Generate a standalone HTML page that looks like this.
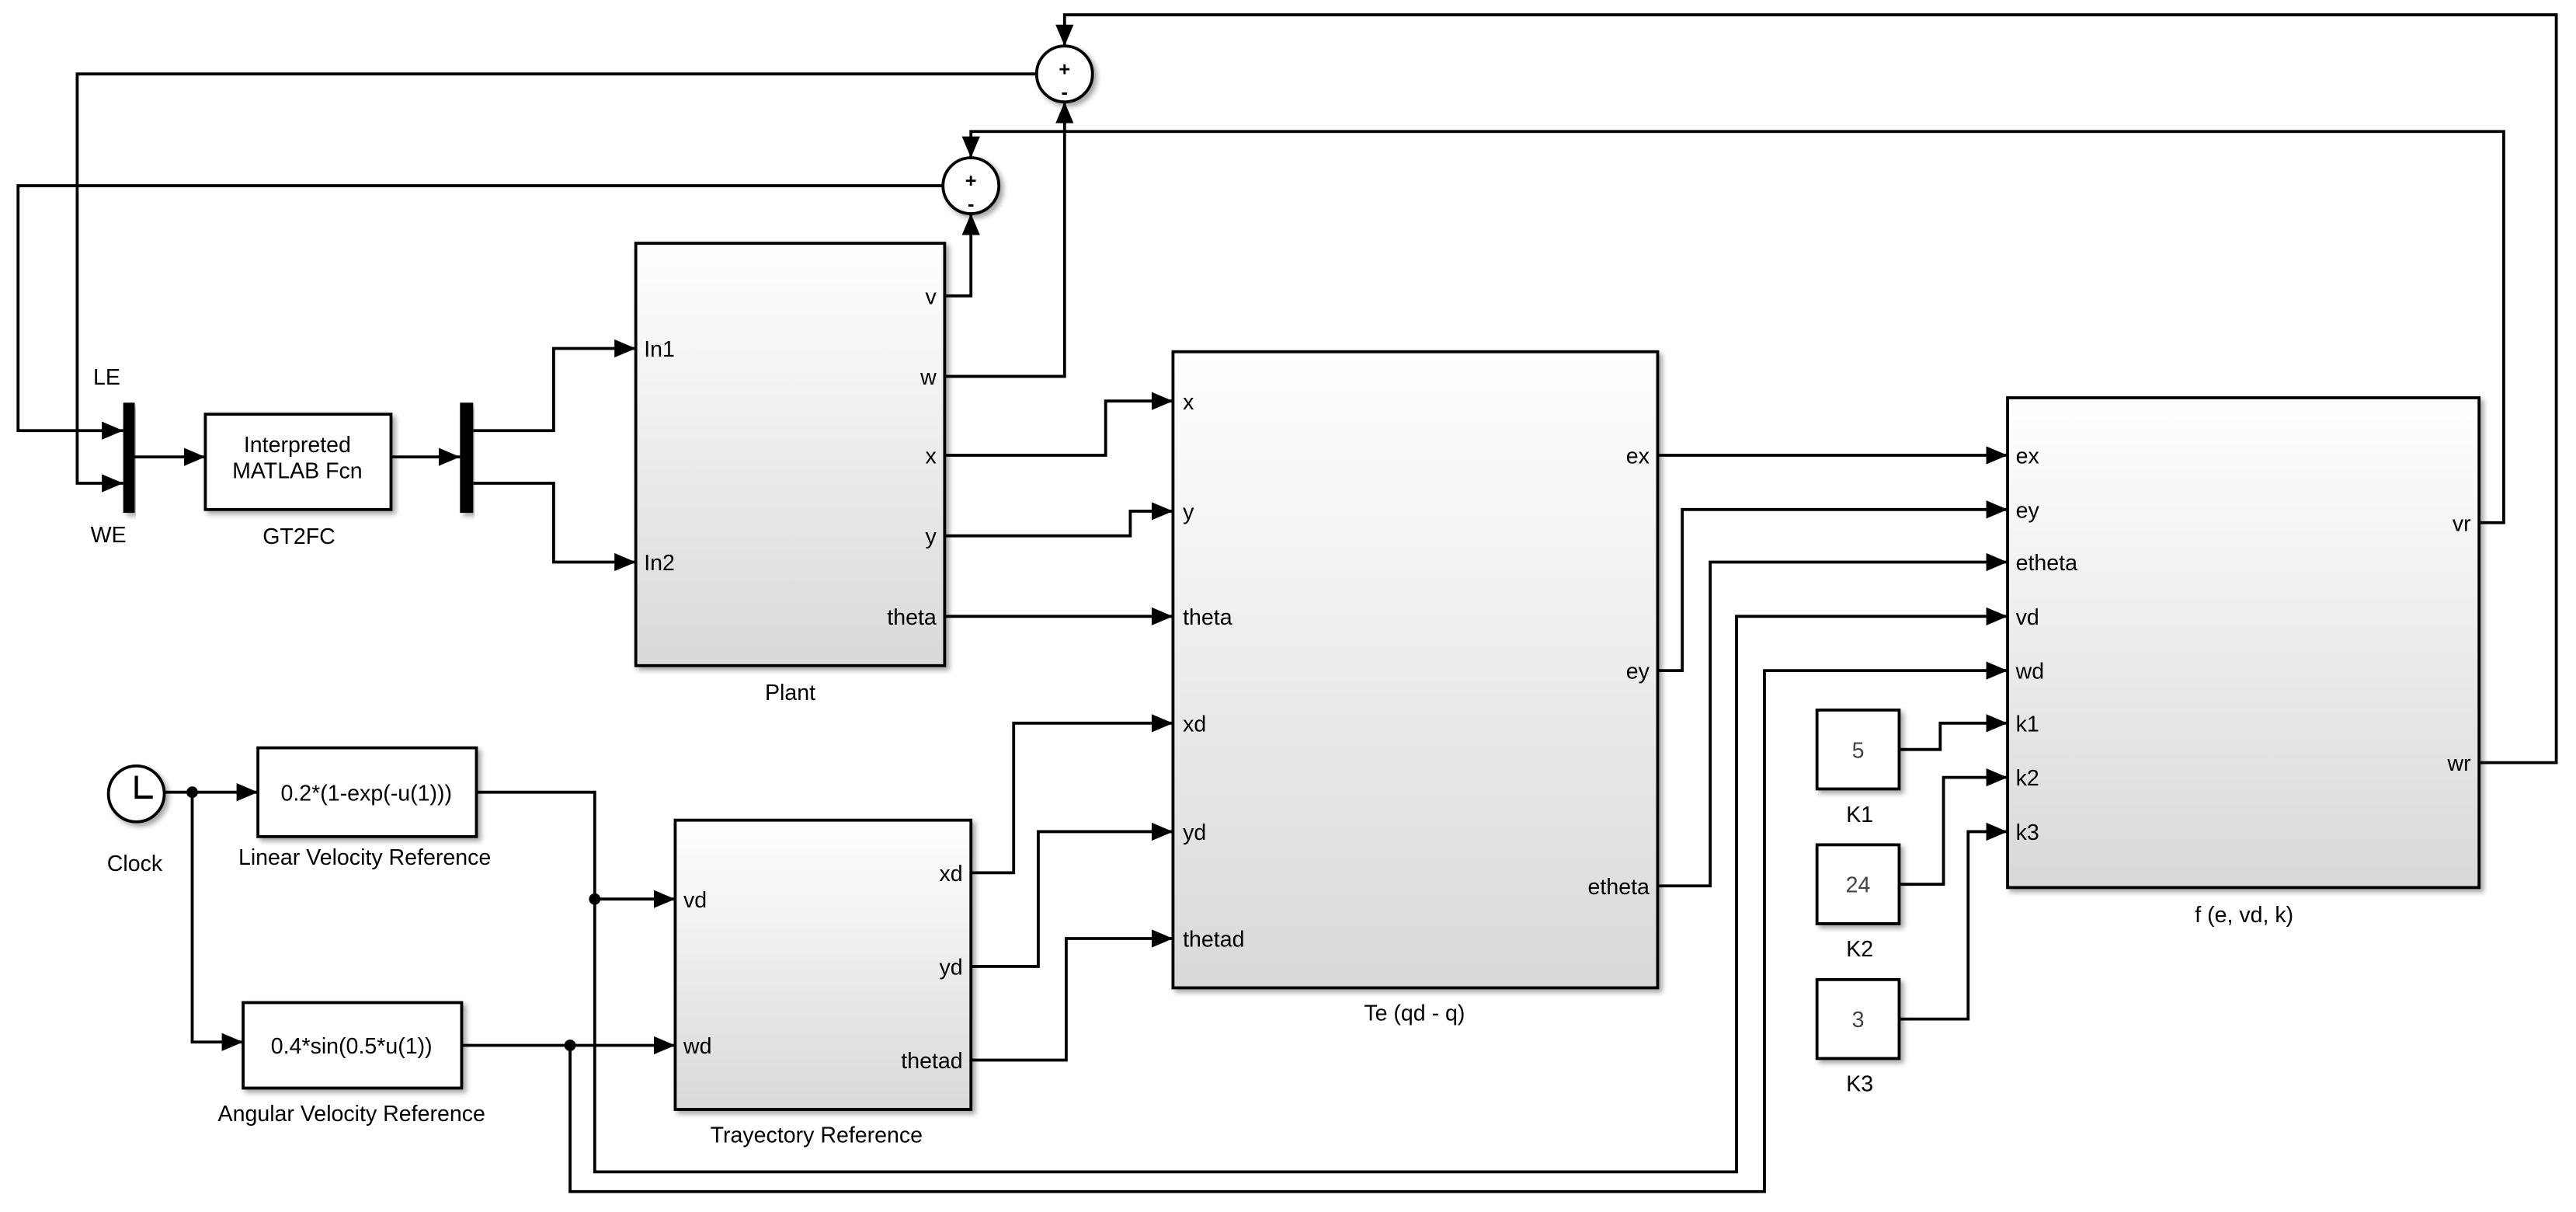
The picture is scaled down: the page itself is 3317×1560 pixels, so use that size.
<!DOCTYPE html>
<html><head><meta charset="utf-8"><style>
html,body{margin:0;padding:0;background:#fff;}
svg{display:block;}
text{font-family:"Liberation Sans",Arial,sans-serif;fill:#000;}
</style></head><body>
<svg width="3317" height="1560" viewBox="0 0 1568 737.4" preserveAspectRatio="none" xmlns="http://www.w3.org/2000/svg">
<defs>
<marker id="a" markerUnits="userSpaceOnUse" markerWidth="13" markerHeight="13" viewBox="0 0 13 13" refX="13" refY="6.5" orient="auto"><path d="M0,1 L13,6.5 L0,12 Z" fill="#000"/></marker>
<linearGradient id="g" x1="0" y1="0" x2="0" y2="1"><stop offset="0" stop-color="#ffffff"/><stop offset="1" stop-color="#d9d9d9"/></linearGradient>
<filter id="s" x="-5%" y="-5%" width="115%" height="115%"><feDropShadow dx="2" dy="2" stdDeviation="1.5" flood-color="#000" flood-opacity="0.35"/></filter>
</defs>
<g fill="none" stroke="#000" stroke-width="1.8">
<polyline points="1509,464 1556,464 1556,9 648,9 648,28" marker-end="url(#a)"/>
<polyline points="1509,318 1524,318 1524,80 591,80 591,96" marker-end="url(#a)"/>
<polyline points="631,45 47,45 47,294 75,294" marker-end="url(#a)"/>
<polyline points="574,113 11,113 11,262 75,262" marker-end="url(#a)"/>
<polyline points="82,278 125,278" marker-end="url(#a)"/>
<polyline points="238,278 280,278" marker-end="url(#a)"/>
<polyline points="288,262 337,262 337,212 387,212" marker-end="url(#a)"/>
<polyline points="288,294 337,294 337,342 387,342" marker-end="url(#a)"/>
<polyline points="575,180 591,180 591,130" marker-end="url(#a)"/>
<polyline points="575,229 648,229 648,62" marker-end="url(#a)"/>
<polyline points="575,277 673,277 673,244 714,244" marker-end="url(#a)"/>
<polyline points="575,326 688,326 688,311 714,311" marker-end="url(#a)"/>
<polyline points="575,375 714,375" marker-end="url(#a)"/>
<polyline points="1009,277 1222,277" marker-end="url(#a)"/>
<polyline points="1009,408 1024,408 1024,310 1222,310" marker-end="url(#a)"/>
<polyline points="1009,539 1041,539 1041,342 1222,342" marker-end="url(#a)"/>
<polyline points="362,547 362,713 1057,713 1057,375 1222,375" marker-end="url(#a)"/>
<polyline points="347,636 347,725 1074,725 1074,408 1222,408" marker-end="url(#a)"/>
<polyline points="1156,456 1181,456 1181,440 1222,440" marker-end="url(#a)"/>
<polyline points="1156,538 1183,538 1183,473 1222,473" marker-end="url(#a)"/>
<polyline points="1156,620 1198,620 1198,506 1222,506" marker-end="url(#a)"/>
<polyline points="100,482 157,482" marker-end="url(#a)"/>
<polyline points="117,482 117,634 148,634" marker-end="url(#a)"/>
<polyline points="290,482 362,482 362,547 411,547" marker-end="url(#a)"/>
<polyline points="281,636 411,636" marker-end="url(#a)"/>
<polyline points="591,531 617,531 617,440 714,440" marker-end="url(#a)"/>
<polyline points="591,588 632,588 632,506 714,506" marker-end="url(#a)"/>
<polyline points="591,645 649,645 649,571 714,571" marker-end="url(#a)"/>
</g>
<circle cx="117" cy="482" r="3.5"/><circle cx="362" cy="547" r="3.5"/><circle cx="347" cy="636" r="3.5"/>
<g filter="url(#s)" stroke="#000" stroke-width="1.8" fill="#fff">
<circle cx="648" cy="45" r="17"/><circle cx="591" cy="113" r="17"/>
<circle cx="83" cy="483" r="17"/>
</g>
<text x="648" y="46" font-size="12" font-weight="bold" text-anchor="middle">+</text>
<text x="648" y="60" font-size="12" font-weight="bold" text-anchor="middle">-</text>
<text x="591" y="114" font-size="12" font-weight="bold" text-anchor="middle">+</text>
<text x="591" y="128" font-size="12" font-weight="bold" text-anchor="middle">-</text>
<polyline points="83,472 83,485 93,485" fill="none" stroke="#000" stroke-width="2"/>
<rect x="75" y="245" width="7" height="67" fill="#000" filter="url(#s)"/>
<rect x="280" y="245" width="8" height="67" fill="#000" filter="url(#s)"/>
<g filter="url(#s)" stroke="#000" stroke-width="1.8">
<rect x="125" y="252" width="113" height="58" fill="#fff"/>
<rect x="387" y="148" width="188" height="257" fill="url(#g)"/>
<rect x="714" y="214" width="295" height="387" fill="url(#g)"/>
<rect x="1222" y="242" width="287" height="298" fill="url(#g)"/>
<rect x="1106" y="432" width="50" height="48" fill="#fff"/>
<rect x="1106" y="514" width="50" height="48" fill="#fff"/>
<rect x="1106" y="596" width="50" height="48" fill="#fff"/>
<rect x="157" y="455" width="133" height="54" fill="#fff"/>
<rect x="148" y="610" width="133" height="52" fill="#fff"/>
<rect x="411" y="499" width="180" height="176" fill="url(#g)"/>
</g>
<g font-size="13.5">
<text x="181" y="275" text-anchor="middle">Interpreted</text>
<text x="181" y="291" text-anchor="middle">MATLAB Fcn</text>
<text x="65" y="234" text-anchor="middle">LE</text>
<text x="66" y="330" text-anchor="middle">WE</text>
<text x="182" y="331" text-anchor="middle">GT2FC</text>
<text x="481" y="426" text-anchor="middle">Plant</text>
<text x="392" y="217">In1</text><text x="392" y="347">In2</text>
<g text-anchor="end"><text x="570" y="185">v</text><text x="570" y="234">w</text><text x="570" y="282">x</text><text x="570" y="331">y</text><text x="570" y="380">theta</text></g>
<text x="720" y="249">x</text><text x="720" y="316">y</text><text x="720" y="380">theta</text><text x="720" y="445">xd</text><text x="720" y="511">yd</text><text x="720" y="576">thetad</text>
<g text-anchor="end"><text x="1004" y="282">ex</text><text x="1004" y="413">ey</text><text x="1004" y="544">etheta</text></g>
<text x="861" y="621" text-anchor="middle">Te (qd - q)</text>
<text x="1227" y="282">ex</text><text x="1227" y="315">ey</text><text x="1227" y="347">etheta</text><text x="1227" y="380">vd</text><text x="1227" y="413">wd</text><text x="1227" y="445">k1</text><text x="1227" y="478">k2</text><text x="1227" y="511">k3</text>
<g text-anchor="end"><text x="1504" y="323">vr</text><text x="1504" y="469">wr</text></g>
<text x="1366" y="561" text-anchor="middle">f (e, vd, k)</text>
<g text-anchor="middle"><text x="1131" y="461" style="fill:#444">5</text><text x="1131" y="543" style="fill:#444">24</text><text x="1131" y="625" style="fill:#444">3</text></g>
<g text-anchor="middle"><text x="1132" y="500">K1</text><text x="1132" y="582">K2</text><text x="1132" y="664">K3</text></g>
<text x="82" y="530" text-anchor="middle">Clock</text>
<text x="223" y="487" text-anchor="middle">0.2*(1-exp(-u(1)))</text>
<text x="222" y="526" text-anchor="middle">Linear Velocity Reference</text>
<text x="214" y="641" text-anchor="middle">0.4*sin(0.5*u(1))</text>
<text x="214" y="682" text-anchor="middle">Angular Velocity Reference</text>
<text x="416" y="552">vd</text><text x="416" y="641">wd</text>
<g text-anchor="end"><text x="586" y="536">xd</text><text x="586" y="593">yd</text><text x="586" y="650">thetad</text></g>
<text x="497" y="695" text-anchor="middle">Trayectory Reference</text>
</g>
</svg>
</body></html>
